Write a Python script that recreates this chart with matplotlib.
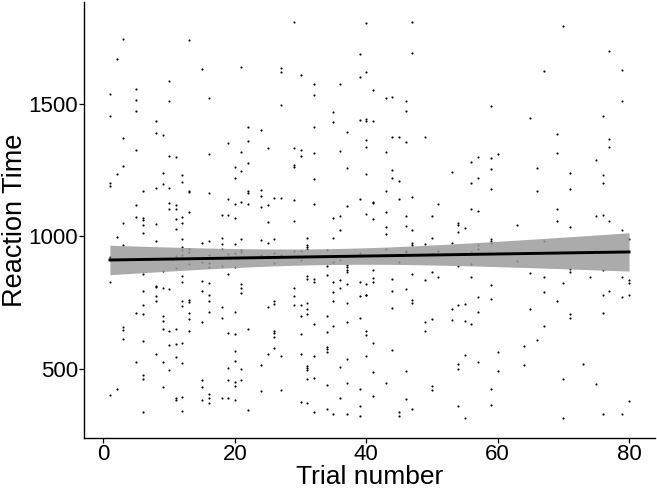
import matplotlib
matplotlib.use("Agg")

import matplotlib.pyplot as plt
import numpy as np

# Reaction times, grouped by trial number
rt_by_trial = {
    1: [1537, 1454, 1202, 1192, 923, 914, 829, 404],
    2: [1670, 1234, 998, 424],
    3: [1746, 1372, 1264, 1049, 967, 658, 646, 614],
    5: [1555, 1513, 1473, 1326, 1118, 1074, 711, 528],
    6: [1170, 1070, 1063, 1045, 1014, 859, 794, 741, 708, 606, 476, 463, 337],
    8: [1435, 1390, 1182, 1048, 982, 815, 811, 776, 757, 556],
    9: [1381, 1239, 1198, 869, 806, 701, 682, 650, 526, 433],
    10: [1587, 1512, 1304, 1182, 1127, 1103, 801, 645, 590, 495],
    11: [1299, 1119, 1102, 1065, 1028, 927, 881, 652, 595, 544, 392, 382],
    12: [1230, 1204, 1072, 1052, 992, 961, 950, 930, 850, 830, 757, 736, 600, 524, 393, 342],
    13: [1741, 1171, 1166, 1093, 952, 940, 896, 760, 754, 712, 688, 643],
    15: [1630, 975, 905, 832, 794, 678, 458, 434, 384],
    16: [1522, 1309, 1164, 984, 931, 901, 883, 825, 781, 755, 715, 408, 392, 374],
    18: [1082, 994, 971, 954, 889, 735, 691, 390],
    19: [1351, 1141, 1079, 935, 857, 635, 503, 459, 392],
    20: [1263, 1219, 1123, 1068, 970, 938, 920, 884, 716, 632, 568, 532, 453, 438, 385],
    21: [1639, 1318, 1248, 1128, 989, 950, 942, 820, 804, 788, 501, 459],
    22: [1414, 1361, 1275, 1171, 1162, 1123, 651, 344],
    24: [1401, 1175, 1151, 1110, 985, 930, 516, 419],
    25: [1335, 1120, 1054, 977, 926, 734, 558],
    26: [1144, 989, 937, 900, 757, 745, 643, 637, 622, 581],
    27: [1634, 1621, 1494, 1146, 930, 551, 423],
    29: [1809, 1335, 1270, 1262, 1136, 1059, 946, 805, 775, 742],
    30: [1609, 1326, 1303, 946, 911, 741, 700, 633, 558, 375],
    31: [996, 967, 960, 951, 852, 838, 750, 725, 708, 512, 505, 497, 462, 371],
    32: [1576, 1533, 1414, 1313, 1215, 1123, 838, 828, 671, 551, 466, 339],
    34: [950, 889, 854, 702, 640, 584, 575, 566, 441, 351],
    35: [1468, 1433, 1069, 994, 902, 828, 790, 755, 663, 332],
    36: [1573, 1322, 1076, 1024, 910, 834, 805, 507, 390],
    37: [1394, 1258, 1116, 892, 883, 874, 866, 819, 750, 677, 539, 448, 331],
    39: [1688, 1602, 1439, 1142, 938, 829, 776, 691, 426, 360, 325],
    40: [1804, 1619, 1441, 1435, 1365, 1336, 1236, 1086, 822, 781, 778, 642, 627, 549],
    41: [1551, 1436, 1130, 1125, 1067, 874, 843, 829, 599, 488, 398],
    43: [1522, 1317, 1171, 1091, 1034, 1010, 954, 448],
    44: [1524, 1375, 1250, 1219, 840, 793, 729, 573],
    45: [1374, 1208, 1141, 903, 340, 325],
    46: [1511, 1472, 1355, 1077, 1039, 947, 940, 801, 491, 389],
    47: [1809, 1693, 1150, 1024, 975, 967, 858, 760, 750, 351],
    49: [1375, 971, 834, 678, 643],
    50: [1077, 994, 932, 866, 688, 438, 422],
    51: [1123, 946, 848],
    53: [1242, 975, 725, 684],
    54: [1052, 1044, 1015, 933, 888, 742, 520, 501, 360],
    55: [1030, 747, 682, 552, 315],
    56: [1281, 1203, 1104, 942, 897, 848, 671],
    57: [1301, 1219, 1097, 969, 954, 770, 717, 526],
    59: [1492, 1294, 1255, 1180, 990, 982, 976, 818, 764, 426, 363],
    60: [1311, 564, 492],
    63: [1043, 908],
    64: [586, 515],
    65: [1448, 862, 727],
    66: [1258, 1170, 608],
    67: [1624, 981, 849, 790, 661],
    69: [1386, 1316, 1104, 1058, 756],
    70: [1793, 824, 464, 316],
    71: [1240, 1180, 1037, 879, 867, 708, 691],
    73: [520],
    74: [849],
    75: [1288, 1078, 947, 444],
    76: [1454, 1233, 1201, 1082, 873, 781, 713, 330],
    77: [1700, 1367, 1338, 1058, 795],
    79: [1628, 1512, 1025, 849, 773, 330],
    80: [991, 834, 825, 781, 380],
}

trial = np.array([t for t, vals in rt_by_trial.items() for _ in vals], dtype=float)
rt = np.array([v for vals in rt_by_trial.values() for v in vals], dtype=float)

xticks = [0, 20, 40, 60, 80]
yticks = [500, 1000, 1500]

# linear fit with 95% confidence band (like geom_smooth(method="lm"))
n = len(trial)
slope, intercept = np.polyfit(trial, rt, 1)
resid = rt - (intercept + slope * trial)
s = np.sqrt(np.sum(resid ** 2) / (n - 2))
xbar = trial.mean()
sxx = np.sum((trial - xbar) ** 2)
xs = np.linspace(trial.min(), trial.max(), 80)
fit = intercept + slope * xs
se = s * np.sqrt(1.0 / n + (xs - xbar) ** 2 / sxx)
tcrit = 1.965

plt.rcParams['font.family'] = ['Liberation Sans', 'DejaVu Sans']

fig = plt.figure(figsize=(6.57, 4.9), dpi=100)
ax = fig.add_axes([84 / 657, 52 / 490, 571 / 657, 436 / 490])

ax.scatter(trial, rt, s=2.4, color='black', linewidths=0, zorder=2)
ax.fill_between(xs, fit - tcrit * se, fit + tcrit * se, color='#9c9c9c', alpha=0.85,
                linewidth=0, zorder=3)
ax.plot(xs, fit, color='black', linewidth=2.1, zorder=4)

xr = trial.max() - trial.min()
yr = rt.max() - rt.min()
ax.set_xlim(trial.min() - 0.05 * xr, trial.max() + 0.05 * xr)
ax.set_ylim(rt.min() - 0.05 * yr, rt.max() + 0.05 * yr)

ax.set_xticks(xticks)
ax.set_yticks(yticks)
ax.tick_params(labelsize=16, colors='black', length=3.5, width=0.9, pad=1)

for side in ['top', 'right']:
    ax.spines[side].set_visible(False)
for side in ['left', 'bottom']:
    ax.spines[side].set_linewidth(1.0)
    ax.spines[side].set_color('black')

ax.set_xlabel('Trial number', fontsize=19, labelpad=0)
ax.set_ylabel('Reaction Time', fontsize=19.5, labelpad=0)

fig.savefig('out.png', dpi=100)
